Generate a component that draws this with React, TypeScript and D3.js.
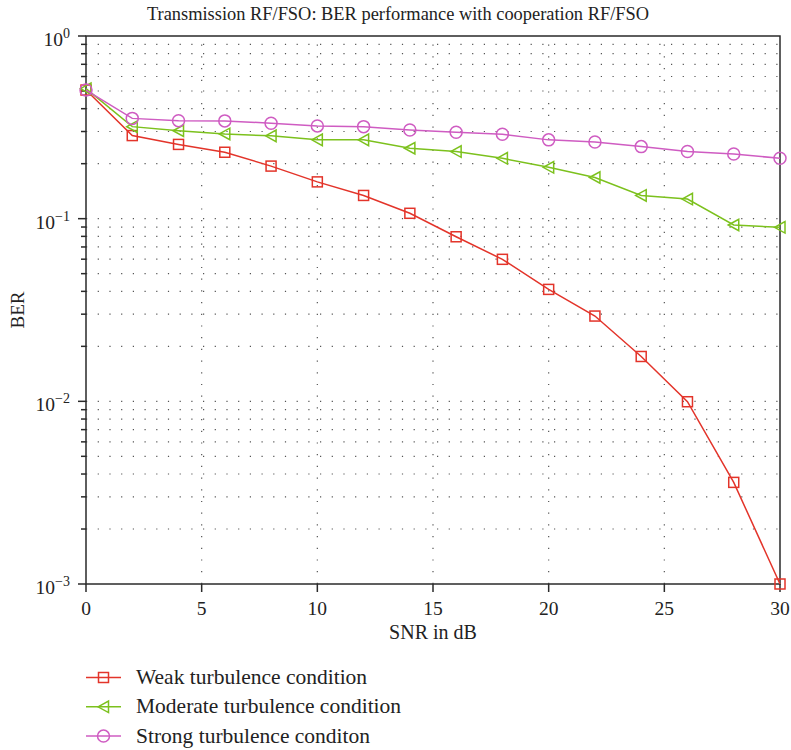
import React, { useEffect, useRef } from 'react'
import * as d3 from 'd3'

const snr = [0, 2, 4, 6, 8, 10, 12, 14, 16, 18, 20, 22, 24, 26, 28, 30]
const weak = [0.506, 0.285, 0.255, 0.231, 0.194, 0.159, 0.134, 0.107, 0.0796, 0.0599, 0.041, 0.0293, 0.0176, 0.00995, 0.0036, 0.001]
const moderate = [0.515, 0.319, 0.303, 0.291, 0.284, 0.27, 0.27, 0.243, 0.233, 0.214, 0.191, 0.168, 0.134, 0.128, 0.0923, 0.0897]
const strong = [0.506, 0.354, 0.344, 0.343, 0.333, 0.322, 0.319, 0.306, 0.297, 0.29, 0.27, 0.263, 0.248, 0.233, 0.226, 0.214]
const seriesNames = ['Weak turbulence condition', 'Moderate turbulence condition', 'Strong turbulence conditon']
const xTicks = [0, 5, 10, 15, 20, 25, 30]
const yExponents = [0, -1, -2, -3]

const colors = ['#e3342a', '#7cc11d', '#cf5cc2']
const font = '"Liberation Serif", "DejaVu Serif", serif'

const App = () => {
  const svgRef = useRef(null)
  const width = 791
  const height = 750
  const margin = { top: 36, right: 11, bottom: 166, left: 86 }

  useEffect(() => {
    const svg = d3.select(svgRef.current)
    svg.selectAll('*').remove()

    const x = d3
      .scaleLinear()
      .domain([0, 30])
      .range([margin.left, width - margin.right])
    const y = d3
      .scaleLog()
      .domain([1e-3, 1])
      .range([height - margin.bottom, margin.top])

    const x0 = margin.left
    const x1 = width - margin.right
    const y0 = height - margin.bottom
    const y1 = margin.top

    // minor y values 2..9 x 10^k
    const minorY = []
    for (let k = -3; k < 0; k++) {
      for (let m = 2; m <= 9; m++) minorY.push(m * Math.pow(10, k))
    }

    const grid = svg.append('g').attr('class', 'grid')
    grid
      .selectAll('line.h')
      .data(minorY.concat([0.1, 0.01]))
      .join('line')
      .attr('x1', x0)
      .attr('x2', x1)
      .attr('y1', (d) => y(d))
      .attr('y2', (d) => y(d))
      .style('stroke', '#555')
      .style('stroke-width', 1.2)
      .style('stroke-dasharray', '1.2,10.5')

    grid
      .selectAll('line.v')
      .data(xTicks.slice(1, -1))
      .join('line')
      .attr('x1', (d) => x(d))
      .attr('x2', (d) => x(d))
      .attr('y1', y0)
      .attr('y2', y1)
      .style('stroke', '#555')
      .style('stroke-width', 1.2)
      .style('stroke-dasharray', '1.2,10.5')

    // frame
    svg
      .append('rect')
      .attr('x', x0)
      .attr('y', y1)
      .attr('width', x1 - x0)
      .attr('height', y0 - y1)
      .style('fill', 'none')
      .style('stroke', '#2a2a2a')
      .style('stroke-width', 1.5)

    // x ticks
    const xt = svg.append('g').attr('class', 'x-ticks')
    xt.selectAll('line')
      .data(xTicks)
      .join('line')
      .attr('x1', (d) => x(d))
      .attr('x2', (d) => x(d))
      .attr('y1', y0)
      .attr('y2', y0 + 8)
      .style('stroke', '#2a2a2a')
      .style('stroke-width', 1.5)
    xt.selectAll('text')
      .data(xTicks)
      .join('text')
      .attr('x', (d) => x(d))
      .attr('y', y0 + 31)
      .attr('text-anchor', 'middle')
      .style('font-family', font)
      .style('font-size', '19.5px')
      .style('fill', '#222')
      .text((d) => d)

    // y ticks
    const yt = svg.append('g').attr('class', 'y-ticks')
    yt.selectAll('line.minor')
      .data(minorY)
      .join('line')
      .attr('x1', x0 - 5)
      .attr('x2', x0)
      .attr('y1', (d) => y(d))
      .attr('y2', (d) => y(d))
      .style('stroke', '#2a2a2a')
      .style('stroke-width', 1.5)
    yt.selectAll('line.major')
      .data(yExponents)
      .join('line')
      .attr('x1', x0 - 8)
      .attr('x2', x0)
      .attr('y1', (d) => y(Math.pow(10, d)))
      .attr('y2', (d) => y(Math.pow(10, d)))
      .style('stroke', '#2a2a2a')
      .style('stroke-width', 1.5)
    const labels = yt
      .selectAll('text')
      .data(yExponents)
      .join('text')
      .attr('x', x0 - 16)
      .attr('y', (d) => y(Math.pow(10, d)) + 10)
      .attr('text-anchor', 'end')
      .style('font-family', font)
      .style('font-size', '19.5px')
      .style('fill', '#222')
    labels.append('tspan').text('10')
    labels
      .append('tspan')
      .attr('dy', -8)
      .style('font-size', '14px')
      .text((d) => (d === 0 ? '0' : '\u2212' + Math.abs(d)))

    // axis labels and title
    svg
      .append('text')
      .attr('x', 398)
      .attr('y', 20)
      .attr('text-anchor', 'middle')
      .style('font-family', font)
      .style('font-size', '18.4px')
      .style('fill', '#222')
      .text('Transmission RF/FSO: BER performance with cooperation RF/FSO')

    svg
      .append('text')
      .attr('x', (x0 + x1) / 2)
      .attr('y', y0 + 55)
      .attr('text-anchor', 'middle')
      .style('font-family', font)
      .style('font-size', '20px')
      .style('fill', '#222')
      .text('SNR in dB')

    svg
      .append('text')
      .attr('transform', `translate(24, ${(y0 + y1) / 2}) rotate(-90)`)
      .attr('text-anchor', 'middle')
      .style('font-family', font)
      .style('font-size', '19px')
      .style('fill', '#222')
      .text('BER')

    // series
    const series = [weak, moderate, strong]
    const line = d3
      .line()
      .x((d) => x(d[0]))
      .y((d) => y(d[1]))

    const drawMarker = (sel, idx, size) => {
      if (idx === 0) {
        sel
          .append('rect')
          .attr('x', -size)
          .attr('y', -size)
          .attr('width', size * 2)
          .attr('height', size * 2)
      } else if (idx === 1) {
        sel.append('path').attr('d', `M${-size * 1.1},0L${size},${-size * 1.15}L${size},${size * 1.15}Z`)
      } else {
        sel.append('circle').attr('r', size * 1.2)
      }
    }

    series.forEach((vals, i) => {
      const pts = snr.map((s, j) => [s, vals[j]])
      const g = svg.append('g').attr('class', 'series-' + i)
      g.append('path')
        .attr('d', line(pts))
        .style('fill', 'none')
        .style('stroke', colors[i])
        .style('stroke-width', 1.5)
      g.selectAll('g.marker')
        .data(pts)
        .join('g')
        .attr('class', 'marker')
        .attr('transform', (d) => `translate(${x(d[0])},${y(d[1])})`)
        .each(function () {
          drawMarker(d3.select(this), i, 5)
        })
        .selectAll('*')
        .style('fill', 'none')
        .style('stroke', colors[i])
        .style('stroke-width', 1.5)
    })

    // legend
    const legend = svg.append('g').attr('class', 'legend')
    seriesNames.forEach((name, i) => {
      const ly = 677.5 + i * 29.3
      const lg = legend.append('g')
      lg.append('line')
        .attr('x1', 86)
        .attr('x2', 121)
        .attr('y1', ly)
        .attr('y2', ly)
        .style('stroke', colors[i])
        .style('stroke-width', 1.5)
      const m = lg.append('g').attr('transform', `translate(103.5,${ly})`)
      drawMarker(m, i, 5)
      m.selectAll('*').style('fill', 'none').style('stroke', colors[i]).style('stroke-width', 1.5)
      lg.append('text')
        .attr('x', 136)
        .attr('y', ly + 6.5)
        .style('font-family', font)
        .style('font-size', '21.5px')
        .style('fill', '#222')
        .text(name)
    })
  }, [])

  return (
    <svg
      ref={svgRef}
      width={width}
      height={height}
      viewBox={`0 0 ${width} ${height}`}
      style={{ position: 'absolute', left: 0, top: 0, background: '#fff' }}
    ></svg>
  )
}

export default App
